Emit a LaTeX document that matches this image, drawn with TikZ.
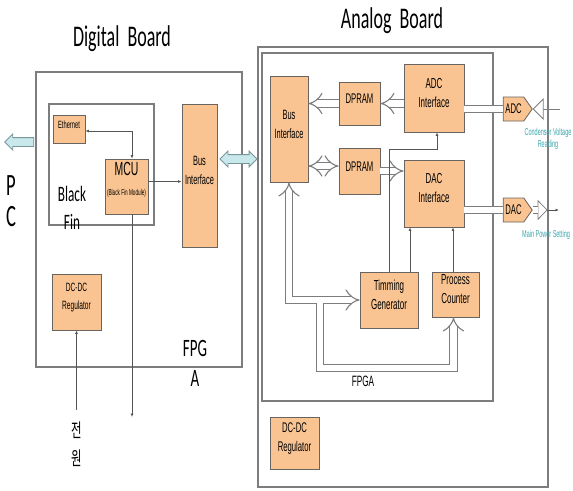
\documentclass[tikz,border=0pt]{standalone}
\usepackage{fontspec}
\setmainfont{Liberation Sans}[FakeStretch=0.55]
\newfontfamily\titlefont{Carlito}[FakeStretch=0.6]
\newfontfamily\krfont{Noto Sans CJK KR}[FakeStretch=0.6]
\usetikzlibrary{arrows.meta,shapes.arrows,shapes.symbols,fit}
\definecolor{boxfill}{RGB}{250,196,146}
\definecolor{boxline}{RGB}{105,100,95}
\definecolor{frameline}{RGB}{125,125,125}
\definecolor{connline}{RGB}{85,85,85}
\definecolor{hollowline}{RGB}{125,125,125}
\definecolor{arrowfill}{RGB}{200,232,236}
\definecolor{arrowline}{RGB}{120,150,155}
\definecolor{sigcol}{RGB}{60,165,170}
\tikzset{
  frame/.style={draw=frameline, line width=1.1pt, inner sep=0pt},
  box/.style={draw=boxline, fill=boxfill, line width=0.9pt, inner sep=0pt, align=center,
     font=\fontsize{14.5}{19}\selectfont},
  pent/.style={shape=signal, signal to=east, signal pointer angle=110, draw=boxline, fill=boxfill,
     line width=0.8pt, inner sep=0pt, minimum width=29pt, minimum height=24pt,
     font=\fontsize{14}{16}\selectfont},
  conn/.style={draw=connline, line width=0.7pt},
  tip/.style={-{Latex[length=3.5pt,width=3pt]}},
  hol/.style={draw=hollowline, line width=1.1pt, double=white, double distance=6.5pt},
  blockarrow/.style={draw=arrowline, fill=arrowfill, line width=0.8pt, inner sep=4pt,
     single arrow head extend=3.5pt, single arrow tip angle=90},
  ttl/.style={font=\titlefont\fontsize{30}{36}\selectfont, inner sep=0pt},
  sig/.style={text=sigcol, font=\fontsize{10}{12.5}\selectfont, inner sep=0pt, align=center}
}
\begin{document}
\begin{tikzpicture}[x=1pt,y=-1pt]
\fill[white] (0,0) rectangle (573,490);
\useasboundingbox (0,0) rectangle (573,490);

% titles
\node[ttl, anchor=base] (tdig) at (122,46) {Digital\ \ Board};
\node[ttl, anchor=base] (tana) at (392,28) {Analog\ \ Board};

% frames
\node[frame, fit={(36,72) (242,367)}] (digital) {};
\node[frame, fit={(49,104) (154,225)}] (blackfin) {};
\node[frame, fit={(258,47) (548,487)}] (analog) {};
\node[frame, fit={(262,53) (493,401)}] (fpga) {};

% digital board
\node[box, fit={(53,115) (85,143)}, font=\fontsize{10.5}{12}\selectfont] (eth) {Ethernet};
\node[box, fit={(105,159) (148,214)}] (mcu) {{\fontsize{19}{21}\selectfont MCU}\\[1pt]{\fontsize{8.5}{10}\selectfont (Black Fin Module)}};
\node[box, fit={(182,104) (217,247)}, font=\fontsize{13.5}{19}\selectfont] (dbus) {Bus\\Interface\\[14pt]};
\node[box, fit={(52,274) (101,330)}, font=\fontsize{12}{18}\selectfont] (ddcdc) {DC-DC\\Regulator};

\node[font=\titlefont\fontsize{31}{36}\selectfont, inner sep=0pt, anchor=base] (pch) at (11,195) {P};
\node[font=\titlefont\fontsize{31}{36}\selectfont, inner sep=0pt, anchor=base] (cch) at (11,226) {C};
\node[font=\titlefont\fontsize{22}{26}\selectfont, inner sep=0pt, anchor=base] (blk) at (72,201) {Black};
\node[font=\titlefont\fontsize{22}{26}\selectfont, inner sep=0pt, anchor=base] (fin) at (72,229) {Fin};
\node[font=\titlefont\fontsize{25}{30}\selectfont, inner sep=0pt, anchor=base] (fpg) at (195,356) {FPG};
\node[font=\titlefont\fontsize{25}{30}\selectfont, inner sep=0pt, anchor=base] (fpga1) at (195,386) {A};
\node[font=\krfont\fontsize{19}{28}\selectfont, inner sep=0pt, align=center] (power) at (77,444) {전\\원};

\node[blockarrow, single arrow, shape border rotate=180, minimum height=29pt] (pcarrow) at (21.5,142) {};
\node[blockarrow, double arrow, double arrow head extend=3.5pt, double arrow tip angle=90, minimum height=37pt] (busarrow) at (238.5,159) {};

\draw[conn, {Latex[length=3.5pt,width=3pt]}-{Latex[length=3.5pt,width=3pt]}] ([yshift=-2pt]eth.east) -| ([xshift=5.5pt]mcu.north);
\draw[conn, tip] ([yshift=5pt]mcu.east) -- ([yshift=5pt]mcu.east -| dbus.west);
\coordinate (mcuout) at (132,417);
\draw[conn, tip] ([xshift=5.5pt]mcu.south) -- (mcuout);
\coordinate (pwrin) at (76.5,410);
\draw[conn, tip] (pwrin) -- (ddcdc.south);

% analog board
\node[box, fit={(270,76) (308,182)}, font=\fontsize{13.5}{19}\selectfont] (abus) {Bus\\Interface};
\node[box, fit={(339,82) (380,125)}, font=\fontsize{14}{16}\selectfont] (dpram1) {DPRAM};
\node[box, fit={(404,64) (464,132)}] (adcif) {ADC\\Interface};
\node[box, fit={(339,148) (380,194)}, font=\fontsize{14}{16}\selectfont] (dpram2) {DPRAM};
\node[box, fit={(404,160) (464,227)}] (dacif) {DAC\\Interface};
\node[pent] (adcp) at (513.5,109) {ADC};
\node[pent] (dacp) at (513.5,210) {DAC};
\node[box, fit={(360,272) (418,328)}] (timing) {Timming\\Generator};
\node[box, fit={(432,272) (479,317)}] (proc) {Process\\Counter};
\node[box, fit={(270,417) (319,469)}, font=\fontsize{14}{19}\selectfont] (adcdc) {DC-DC\\Regulator};
\node[font=\fontsize{15}{17}\selectfont, inner sep=0pt] (fpgalbl) at (363,381) {FPGA};

\draw[hol, -{Implies}] (adcif.west |- dpram1.east) -- (dpram1.east);
\draw[hol, -{Implies}] (dpram1.west) -- (dpram1.west -| abus.east);
\draw[hol, {Implies}-{Implies}] ([yshift=5pt]dpram2.west -| abus.east) -- ([yshift=5pt]dpram2.west);
\draw[hol, -{Implies}] (dpram2.east) -- (dpram2.east -| dacif.west);
\draw[hol] (adcif.east |- adcp.west) -- (adcp.west);
\draw[hol] (dacif.east |- dacp.west) -- (dacp.west);

\draw[hol, {Implies}-{Implies}] (abus.south) |- (timing.west);
\coordinate (br) at (320,303.4);
\coordinate (brc) at (320,368);
\draw[hol, -{Implies}] (br) -- (brc) -| ([xshift=-2pt]proc.south);

\draw[conn, tip] (timing.north) -- ++(0,-122) -| ([xshift=3pt]adcif.south);
\draw[conn, tip] ([xshift=21pt]timing.north) -- ([xshift=21pt]timing.north |- dacif.south);
\draw[conn, tip] ([xshift=-2.5pt]proc.north) -- ([xshift=-2.5pt]proc.north |- dacif.south);

\coordinate (adcin) at (560,109);
\draw[draw=hollowline, line width=0.8pt, -{Triangle[length=11pt,width=22pt,fill=white]}] (adcin) -- (adcp.east);
\coordinate (dacout) at (559,210);
\draw[conn, tip] (dacp.east) -- (dacout);
\draw[draw=hollowline, line width=0.8pt, -{Triangle[length=10pt,width=20pt,fill=white]}] (dacp.east) -- ++(15,0);
\draw[hol] (dacp.east) -- ++(5.5,0);

\node[sig] (cvr) at (548,139) {Condenser Voltage\\Reading};
\node[sig, anchor=west] (mps) at (522,235) {Main Power Setting};
\end{tikzpicture}
\end{document}
